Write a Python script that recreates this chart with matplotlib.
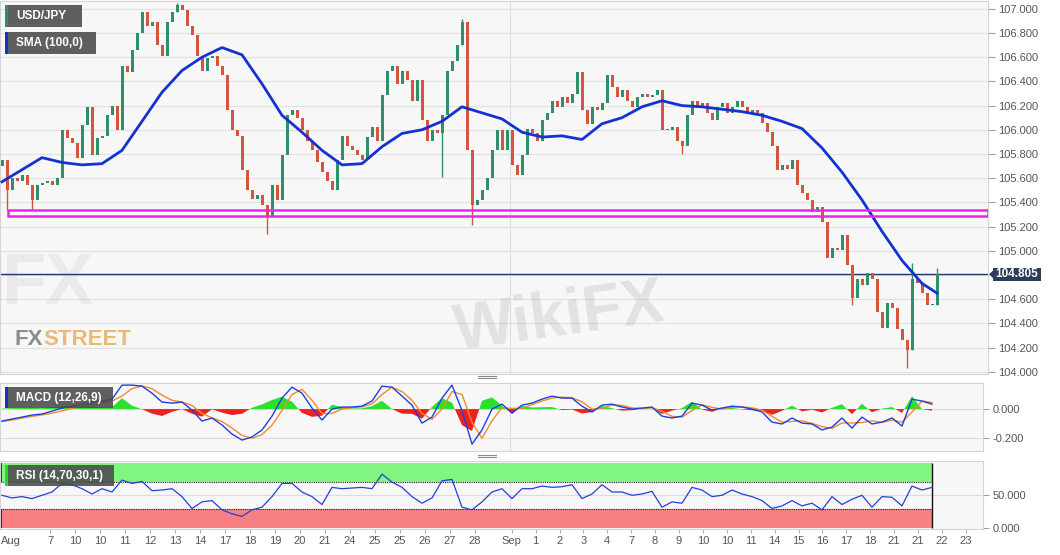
import numpy as np
import matplotlib
matplotlib.use('Agg')
import matplotlib.pyplot as plt
from matplotlib.patches import Rectangle, Polygon
from matplotlib.lines import Line2D

plt.rcParams['font.family'] = ['Liberation Sans', 'DejaVu Sans']

# USD/JPY closes, one bar every 5 px of the time axis
first_open = 105.70
closes = [
    105.75, 105.50, 105.60, 105.58, 105.63, 105.54, 105.42, 105.54, 105.56, 105.58,
    105.54, 105.60, 106.00, 105.93, 105.89, 105.77, 106.04, 106.19, 105.79, 105.93,
    105.95, 106.12, 106.20, 106.00, 106.53, 106.48, 106.66, 106.80, 106.97, 106.86,
    106.89, 106.70, 106.61, 106.89, 106.97, 107.03, 106.99, 106.86, 106.78, 106.61,
    106.49, 106.59, 106.61, 106.53, 106.45, 106.16, 106.00, 105.95, 105.67, 105.50,
    105.43, 105.46, 105.38, 105.29, 105.54, 105.42, 105.79, 106.12, 106.16, 106.10,
    106.00, 105.91, 105.83, 105.73, 105.65, 105.58, 105.50, 105.75, 105.95, 105.87,
    105.83, 105.79, 105.75, 105.94, 106.02, 105.91, 106.29, 106.49, 106.53, 106.38,
    106.49, 106.41, 106.24, 106.41, 106.08, 105.91, 106.00, 105.97, 106.12, 106.49,
    106.57, 106.70, 106.89, 105.83, 105.38, 105.42, 105.50, 105.60, 105.83, 106.00,
    105.83, 106.00, 105.71, 105.63, 105.79, 106.01, 105.97, 105.91, 106.08, 106.14,
    106.24, 106.19, 106.27, 106.22, 106.30, 106.48, 106.16, 106.05, 106.19, 106.16,
    106.22, 106.45, 106.35, 106.27, 106.33, 106.24, 106.19, 106.27, 106.30, 106.27,
    106.29, 106.33, 106.00, 106.00, 106.02, 105.91, 105.87, 106.12, 106.24, 106.20,
    106.22, 106.14, 106.08, 106.19, 106.22, 106.14, 106.19, 106.24, 106.19, 106.14,
    106.16, 106.14, 106.06, 105.98, 105.87, 105.67, 105.71, 105.68, 105.75, 105.54,
    105.48, 105.42, 105.32, 105.36, 105.24, 104.94, 105.02, 105.01, 105.13, 104.88,
    104.61, 104.77, 104.72, 104.82, 104.77, 104.49, 104.36, 104.57, 104.53, 104.35,
    104.26, 104.18, 104.77, 104.73, 104.65, 104.55, 104.55, 104.805,
]
# long wicks (bar number, wick end)
wick_bars = [1, 6, 35, 53, 88, 92, 94, 136, 170, 181, 182, 187]
wick_ends = [105.34, 105.34, 107.05, 105.14, 105.61, 106.92, 105.21, 105.80, 104.55, 104.03, 104.90, 104.86]

# SMA(100) every 4th bar plus the last one
sma100 = [
    105.57, 105.67, 105.77, 105.73, 105.71, 105.72, 105.83, 106.07, 106.31, 106.49,
    106.60, 106.68, 106.62, 106.38, 106.12, 105.98, 105.83, 105.71, 105.72, 105.86,
    105.97, 106.00, 106.07, 106.19, 106.14, 106.09, 105.98, 105.94, 105.95, 105.92,
    106.05, 106.10, 106.19, 106.24, 106.20, 106.19, 106.17, 106.15, 106.12, 106.07,
    106.01, 105.85, 105.65, 105.42, 105.16, 104.92, 104.73, 104.65,
]

# MACD / signal / RSI every 2nd bar
macd_line = [
    -0.082, -0.068, -0.055, -0.041, -0.034, -0.014, 0.007, 0.020, 0.034, 0.048,
    0.055, 0.068, 0.164, 0.164, 0.157, 0.109, 0.048, 0.041, 0.048, -0.007,
    -0.082, -0.061, -0.109, -0.171, -0.212, -0.191, -0.143, -0.048, 0.075, 0.150,
    0.109, 0.007, -0.075, 0.000, 0.014, 0.014, 0.020, 0.055, 0.157, 0.150,
    0.089, 0.027, -0.096, -0.055, 0.075, 0.164, -0.010, -0.240, -0.143, 0.000,
    0.034, -0.027, 0.027, 0.041, 0.068, 0.089, 0.075, 0.075, 0.020, -0.020,
    0.027, 0.034, 0.014, 0.000, 0.007, 0.014, -0.048, -0.061, -0.048, 0.041,
    0.027, -0.007, 0.007, 0.020, 0.014, 0.000, -0.020, -0.089, -0.102, -0.061,
    -0.096, -0.102, -0.143, -0.123, -0.061, -0.130, -0.055, -0.102, -0.089, -0.061,
    -0.116, 0.068, 0.055, 0.034,
]
macd_signal = [
    -0.085, -0.075, -0.062, -0.050, -0.040, -0.028, -0.012, 0.004, 0.018, 0.032,
    0.044, 0.055, 0.090, 0.140, 0.158, 0.140, 0.095, 0.060, 0.048, 0.025,
    -0.030, -0.060, -0.085, -0.130, -0.180, -0.200, -0.175, -0.110, -0.010, 0.100,
    0.135, 0.060, -0.030, -0.030, 0.000, 0.010, 0.015, 0.035, 0.100, 0.150,
    0.120, 0.060, -0.030, -0.070, 0.000, 0.120, 0.100, -0.090, -0.200, -0.080,
    0.010, 0.005, 0.005, 0.030, 0.055, 0.075, 0.082, 0.078, 0.050, 0.000,
    0.005, 0.028, 0.025, 0.008, 0.004, 0.010, -0.015, -0.050, -0.055, -0.010,
    0.030, 0.012, 0.000, 0.012, 0.016, 0.008, -0.008, -0.050, -0.090, -0.085,
    -0.080, -0.098, -0.120, -0.132, -0.095, -0.095, -0.092, -0.080, -0.092, -0.075,
    -0.090, -0.020, 0.055, 0.045,
]
rsi14 = [
    50, 46, 48, 45, 50, 55, 68, 66, 60, 52,
    60, 55, 73, 68, 71, 57, 58, 60, 48, 30,
    40, 42, 28, 22, 18, 28, 32, 48, 68, 68,
    55, 48, 36, 62, 60, 61, 62, 60, 82, 70,
    62, 48, 38, 46, 72, 74, 32, 28, 40, 55,
    60, 45, 60, 60, 64, 62, 63, 66, 45, 52,
    66, 55, 55, 50, 52, 56, 32, 40, 38, 62,
    58, 48, 50, 58, 52, 48, 42, 30, 34, 42,
    34, 38, 28, 48, 36, 44, 50, 32, 48, 47,
    34, 64, 58, 62,
]

last_price = 104.805
zone_low, zone_high = 105.285, 105.335
price_ticks = [107.0, 106.8, 106.6, 106.4, 106.2, 106.0, 105.8, 105.6, 105.4,
               105.2, 105.0, 104.6, 104.4, 104.2, 104.0]
aug_labels = ['7', '10', '10', '11', '12', '13', '14', '17', '18', '19', '20',
              '21', '24', '25', '25', '26', '27', '28']
sep_labels = ['Sep', '1', '2', '3', '4', '7', '8', '9', '10', '10', '11', '14',
              '15', '16', '17', '18', '21', '21', '22', '23']

W, H = 1060, 555
fig = plt.figure(figsize=(W / 100, H / 100), dpi=100)
fig.patch.set_facecolor('white')


def px_axes(x0, y0, x1, y1):
    return fig.add_axes([x0 / W, 1 - y1 / H, (x1 - x0) / W, (y1 - y0) / H])


def px_box(x0, y0, x1, y1, **kw):
    fig.add_artist(Rectangle((x0 / W, 1 - y1 / H), (x1 - x0) / W, (y1 - y0) / H,
                             transform=fig.transFigure, **kw))


ax = px_axes(0, 0.5, 988, 374)
am = px_axes(0, 382.5, 983, 451)
ar = px_axes(0, 460.7, 983, 529.3)

for a in (ax, am, ar):
    a.set_facecolor('#f7f7f7')
    for s in a.spines.values():
        s.set_color('#d4d4d4')
    a.yaxis.tick_right()
    a.tick_params(axis='y', labelsize=8, colors='#a0a0a0', labelcolor='#555555', length=5, pad=2)
    a.set_xticks([])
    a.axvline(510, color='#dedede', lw=0.8, zorder=0)

# ---- price panel
bar_x = 2 + 5 * np.arange(len(closes))
c = np.array(closes)
o = np.r_[first_open, c[:-1]]
up = c >= o
cols = np.where(up, '#2f8f6a', '#d4553b')
lo = np.minimum(o, c)
hi = np.maximum(o, c)
ax.bar(bar_x, np.maximum(hi - lo, 0.008), bottom=lo, width=3.0, color=cols, lw=0, zorder=3)
for b, e in zip(wick_bars, wick_ends):
    ax.vlines(bar_x[b], min(e, lo[b]), max(e, hi[b]), color=cols[b], lw=1, zorder=3)

sma_idx = np.r_[0:len(closes):4, len(closes) - 1]
ax.plot(bar_x[sma_idx], sma100, color='#1432d2', lw=2, zorder=4, solid_joinstyle='round')

ax.set_xlim(0, 988)
ax.set_ylim(103.981, 107.069)
ax.hlines(price_ticks + [104.8], 0, 988, color='#e1e1e1', lw=0.8, zorder=0)
ax.set_yticks(price_ticks)
ax.set_yticklabels([f'{v:.3f}' for v in price_ticks])
ax.axhline(last_price, color='#1f3a66', lw=1, zorder=2)
ax.add_patch(Rectangle((8, zone_low), 980, zone_high - zone_low, fill=False,
                       ec='#ee22ee', lw=1.8, zorder=5))

# last price tag
ax.add_patch(Rectangle((993, last_price - 0.055), 48, 0.11, fc='#2b3d5b', ec='none',
                       clip_on=False, zorder=6))
ax.add_patch(Polygon([(989, last_price), (993.5, last_price + 0.035), (993.5, last_price - 0.035)],
                     closed=True, fc='#2b3d5b', ec='none', clip_on=False, zorder=6))
ax.text(1017, last_price, f'{last_price:.3f}', color='white', fontsize=8.5, fontweight='bold',
        ha='center', va='center', zorder=7)

# watermarks
ax.text(560, 104.44, 'WikiFX', fontsize=46, fontweight='bold', color='#8f8f8f', alpha=0.2,
        rotation=8, ha='center', va='center', zorder=1)
ax.text(1, 104.72, 'FX', fontsize=52, fontweight='bold', color='#9a9a9a', alpha=0.13,
        ha='left', va='center', zorder=1)
fx = ax.text(15, 104.265, 'FX', fontsize=16, fontweight='bold', color='#8c8c8c',
             va='center', ha='left', zorder=1)
ax.annotate('STREET', xy=(1, 0.5), xycoords=fx, fontsize=16, fontweight='bold',
            color='#ebb878', va='center', ha='left', zorder=1)

# ---- MACD panel
ind_x = bar_x[::2]
ml = np.array(macd_line)
ms = np.array(macd_signal)
hist = ml - ms
am.set_xlim(0, 983)
am.set_ylim(-0.287, 0.182)
am.hlines([0, -0.2], 0, 983, color='#dcdcdc', lw=0.8, zorder=0)
am.fill_between(ind_x, hist, 0, where=hist >= 0, interpolate=True, color='#2ee02e', lw=0, zorder=2)
am.fill_between(ind_x, hist, 0, where=hist < 0, interpolate=True, color='#f02020', lw=0, zorder=2)
am.plot(ind_x, ms, color='#f28a2e', lw=1, zorder=3)
am.plot(ind_x, ml, color='#1f3fe0', lw=1, zorder=4)
am.set_yticks([0, -0.2])
am.set_yticklabels(['0.000', '-0.200'])
am.tick_params(axis='y', length=4, pad=3)

# ---- RSI panel
ar.set_xlim(0, 983)
ar.set_ylim(-1.5, 102.4)
ar.hlines(50, 0, 983, color='#dcdcdc', lw=0.8, zorder=0)
ar.fill_between([0, 932], 70, 99.5, color='#80f57f', lw=0, zorder=1)
ar.fill_between([0, 932], 0, 30, color='#f98080', lw=0, zorder=1)
ar.hlines([70, 30], 0, 932, colors='#222222', linestyles=(0, (1, 1)), lw=0.8, zorder=2)
ar.vlines(932, 0, 99.5, colors='#111111', lw=1, zorder=2)
ar.vlines([0.8, 0.8], [0, 70], [30, 99.5], colors='#111111', lw=1.2, zorder=2)
ar.plot(ind_x, rsi14, color='#2440d8', lw=0.9, zorder=3)
ar.set_yticks([50, 0])
ar.set_yticklabels(['50.000', '0.000'])
ar.tick_params(axis='y', length=4, pad=3)

xt = list(50 + 25 * np.arange(len(aug_labels))) + list(511.7 + 23.9 * np.arange(len(sep_labels)))
ar.set_xticks(xt)
ar.set_xticklabels(aug_labels + sep_labels)
ar.tick_params(axis='x', labelsize=8, colors='#aaaaaa', labelcolor='#555555', length=3, pad=2)
fig.text(0.5 / W, 1 - 541 / H, 'Aug', fontsize=8, color='#555555', ha='left', va='center')


# ---- legend tags
def tag(x0, y0, x1, y1, bar_color, text):
    px_box(x0, y0, x1, y1, fc='#4a4a4a', ec='none', alpha=0.88, zorder=8)
    px_box(x0, y0, x0 + 3, y1, fc=bar_color, ec='none', zorder=9)
    fig.text((x0 + 11) / W, 1 - (y0 + y1) / 2 / H, text, color='white', fontsize=8.5,
             fontweight='bold', va='center', ha='left', zorder=10)


tag(5, 5, 82, 27, '#2f8f6a', 'USD/JPY')
tag(5, 32, 96, 54, '#1432d2', 'SMA (100,0)')
tag(5, 387, 113, 408, '#1432d2', 'MACD (12,26,9)')
tag(5, 465, 114, 486, '#22dd22', 'RSI (14,70,30,1)')

# panel separators
for yy in (376.3, 455.3):
    for d in (0, 2):
        fig.add_artist(Line2D([478 / W, 496 / W], [1 - (yy + d) / H] * 2,
                              color='#8c8c8c', lw=0.8))

fig.savefig('out.png', dpi=100)
